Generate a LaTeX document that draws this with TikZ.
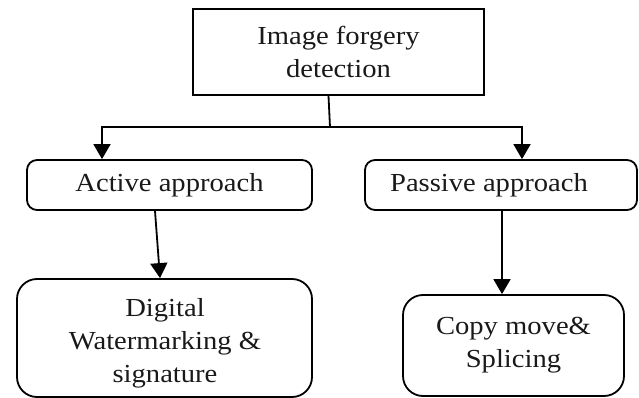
\documentclass[tikz,border=0pt]{standalone}
\usepackage{fontspec}
\setmainfont[FakeStretch=1.1]{Liberation Serif}
\usetikzlibrary{arrows.meta}
\begin{document}
\begin{tikzpicture}[x=1pt,y=-1pt,
  txt/.style={font=\fontsize{26}{33}\selectfont, align=center, text=black!90},
  rootbox/.style={draw, line width=2pt, inner sep=0pt, txt},
  appbox/.style={draw, line width=1.8pt, rounded corners=10pt, inner sep=0pt, txt},
  leafbox/.style={draw, line width=1.8pt, rounded corners=20pt, inner sep=0pt, txt},
  link/.style={line width=1.8pt},
  arrow/.style={link, -{Triangle[width=17pt,length=15pt]}}]
\useasboundingbox (0,0) rectangle (639,398);

% root
\node[rootbox, minimum width=291pt, minimum height=86pt] (root) at (338.5,52) {Image forgery\\detection};

% second level
\node[appbox, minimum width=285pt, minimum height=50pt] (active) at (169.5,185) {Active approach};
\node[appbox, minimum width=272pt, minimum height=50pt] (passive) at (501,185) {};
\node[txt] (passivetxt) at (489,185) {Passive approach};

% leaves
\node[leafbox, minimum width=295pt, minimum height=118pt] (digital) at (164.5,338) {};
\node[txt] (digitaltxt) at (165,343.5) {Digital\\Watermarking \&\\signature};
\node[leafbox, minimum width=221pt, minimum height=101pt] (copy) at (513.5,345.5) {Copy move\&\\Splicing};

% connectors
\coordinate (split) at (330,127);
\draw[link] ([xshift=-10pt]root.south) -- (split);
\draw[arrow] (split) -| ([xshift=-67.5pt]active.north);
\draw[arrow] (split) -| ([xshift=21pt]passive.north);
\draw[arrow] ([xshift=-14.5pt]active.south) -- ([xshift=-4.5pt]digital.north);
\draw[arrow] ([xshift=1pt]passive.south) -- ([xshift=-11.5pt]copy.north);
\end{tikzpicture}
\end{document}
